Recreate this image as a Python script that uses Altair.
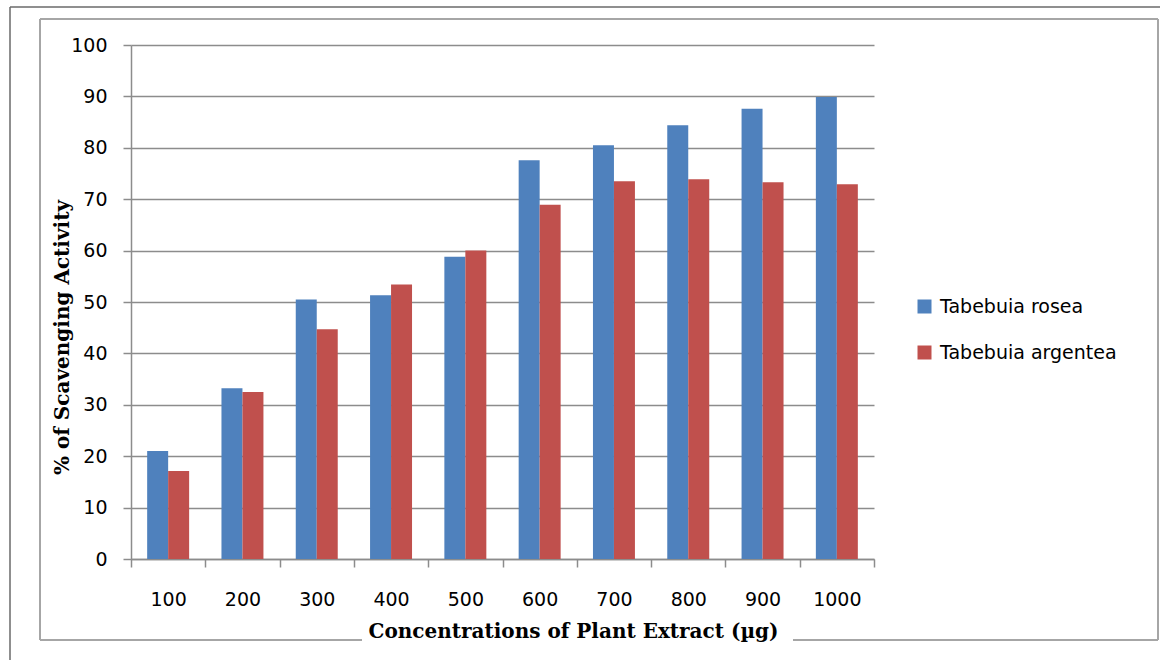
import altair as alt
import pandas as pd

concentrations = ["100", "200", "300", "400", "500", "600", "700", "800", "900", "1000"]
rosea = [21.0, 33.2, 50.5, 51.3, 58.8, 77.6, 80.5, 84.4, 87.6, 89.9]
argentea = [17.1, 32.5, 44.7, 53.4, 60.0, 68.9, 73.5, 73.9, 73.3, 72.9]
series_names = ["Tabebuia rosea", "Tabebuia argentea"]
series_colors = ["#4F81BD", "#C0504D"]
y_ticks = [0, 10, 20, 30, 40, 50, 60, 70, 80, 90, 100]

rows = []
for c, a, b in zip(concentrations, rosea, argentea):
    rows.append({"conc": c, "series": series_names[0], "value": a})
    rows.append({"conc": c, "series": series_names[1], "value": b})
df = pd.DataFrame(rows)

W, H = 743, 514
LEFT, TOP = 131, 45

bars = alt.Chart(df).mark_bar().encode(
    x=alt.X("conc:N", sort=concentrations,
            scale=alt.Scale(paddingInner=0, paddingOuter=0),
            axis=alt.Axis(title="Concentrations of Plant Extract (µg)", labelAngle=0,
                          tickBand="extent", tickSize=8, tickColor="#8c8c8c",
                          domainColor="#8c8c8c", domainWidth=1.5, tickWidth=1.5,
                          labelFont="DejaVu Sans", labelFontSize=19, labelColor="#000000",
                          labelPadding=23,
                          titleFont="DejaVu Serif", titleFontSize=20, titleFontWeight="bold",
                          titleColor="#000000", titleX=442, titleY=72, titleBaseline="middle",
                          titleAnchor="start", titleAlign="center")),
    xOffset=alt.XOffset("series:N", sort=series_names,
                        scale=alt.Scale(paddingInner=0, paddingOuter=0.77)),
    y=alt.Y("value:Q", scale=alt.Scale(domain=[0, 100], nice=False),
            axis=alt.Axis(title="% of Scavenging Activity", values=y_ticks,
                          grid=True, gridColor="#8c8c8c", gridWidth=1.5,
                          tickSize=8, tickColor="#8c8c8c", tickWidth=1.5,
                          domainColor="#8c8c8c", domainWidth=1.5,
                          labelFont="DejaVu Sans", labelFontSize=19, labelColor="#000000",
                          labelPadding=16,
                          titleFont="DejaVu Serif", titleFontSize=20, titleFontWeight="bold",
                          titleColor="#000000", titleX=-69, titleY=292, titleAngle=270,
                          titleBaseline="middle", titleAlign="center", titleAnchor="start")),
    color=alt.Color("series:N", sort=series_names,
                    scale=alt.Scale(domain=series_names, range=series_colors),
                    legend=alt.Legend(title=None, orient="none", legendX=784, legendY=252,
                                      symbolType="square", symbolSize=196, symbolStrokeWidth=0,
                                      labelFont="DejaVu Sans", labelFontSize=19,
                                      labelColor="#000000", labelOffset=6, rowPadding=26,
                                      labelLimit=400, padding=0)),
)

one = alt.Data(values=[{"k": 1}])


def seg(x1, x2, y1, y2, color, width):
    return alt.Chart(one).mark_rule(color=color, strokeWidth=width).encode(
        x=alt.value(x1 - LEFT), x2=alt.value(x2 - LEFT),
        y=alt.value(y1 - TOP), y2=alt.value(y2 - TOP))


outer = "#6a6a6a"
inner = "#a6a6a6"
decor = [
    seg(10, 10, 7, 662, outer, 1.5),
    seg(10, 1162, 7, 7, outer, 1.5),
    seg(40, 40, 19, 640, inner, 2),
    seg(40, 1158, 19, 19, inner, 2),
    seg(1158, 1158, 19, 640, inner, 2),
    seg(40, 362, 640, 640, inner, 2),
    seg(793, 1158, 640, 640, inner, 2),
]

chart = alt.layer(*decor, bars).properties(
    width=W, height=H,
    autosize=alt.AutoSizeParams(type="none"),
    padding={"left": LEFT, "top": TOP, "right": 1160 - LEFT - W, "bottom": 660 - TOP - H},
    background="#ffffff",
).configure_view(stroke=None)

chart.save("out.html", embed_options={"renderer": "svg", "actions": False})
